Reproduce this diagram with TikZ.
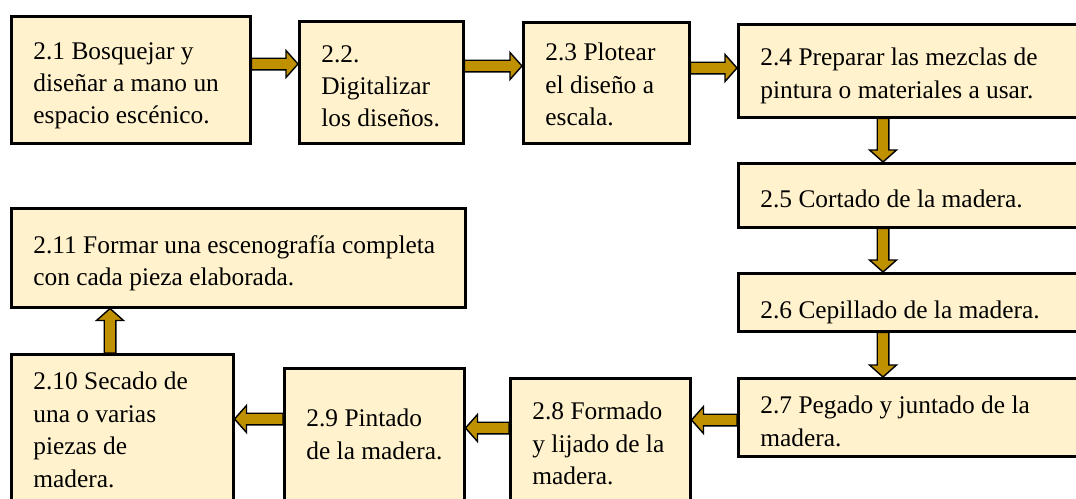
\documentclass[tikz,border=0pt]{standalone}
\usepackage{fontspec}
\setmainfont{Liberation Serif}
\newfontfamily\boxfont{Liberation Serif}
\usepackage{xcolor}
\usepackage{tikz}
\usetikzlibrary{calc,positioning}
\definecolor{boxfill}{HTML}{FFF2CC}
\definecolor{arrowgold}{HTML}{BF9000}

\begin{document}
\begin{tikzpicture}[x=0.5pt,y=-0.5pt]
\tikzstyle{box} = [draw, fill=boxfill, line width=1.25pt, anchor=north west, inner sep=0pt]
\tikzstyle{txt} = [anchor=north west, align=left, inner sep=0pt, font=\boxfont\fontsize{12.7}{16.2}\selectfont]
\tikzstyle{fat} = [draw, line width=0.7pt, line join=miter, fill=arrowgold,
  to path={let \p1=(\tikztostart), \p2=(\tikztotarget),
    \n1={atan2(\y2-\y1,\x2-\x1)}, \n2={veclen(\x2-\x1,\y2-\y1)}, \n3={\n2-6} in
    [shift={(\p1)}, rotate=\n1] (0pt,-2.9pt) -- (\n3*1pt,-2.9pt) -- (\n3*1pt,-6.75pt)
    -- (\n2*1pt,0pt) -- (\n3*1pt,6.75pt) -- (\n3*1pt,2.9pt) -- (0pt,2.9pt) -- cycle}]
\useasboundingbox (0,0) rectangle (1076,498);
\clip (0,0) rectangle (1076,498);
% boxes
\node [box, minimum width=119.5pt, minimum height=63.5pt] (n21) at (10,15) {};
\node [box, minimum width=82pt, minimum height=61pt] (n22) at (298,20) {};
\node [box, minimum width=83pt, minimum height=60.5pt] (n23) at (522,21) {};
\node [box, minimum width=180pt, minimum height=46.5pt] (n24) at (737,23) {};
\node [box, minimum width=180pt, minimum height=32pt] (n25) at (737,162) {};
\node [box, minimum width=180pt, minimum height=29pt] (n26) at (737,272) {};
\node [box, minimum width=180pt, minimum height=39pt] (n27) at (737,377) {};
\node [box, minimum width=90pt, minimum height=70pt] (n28) at (509,377) {};
\node [box, minimum width=90pt, minimum height=75pt] (n29) at (283,367) {};
\node [box, minimum width=111pt, minimum height=80pt] (n210) at (10,353) {};
\node [box, minimum width=227pt, minimum height=49.5pt] (n211) at (10,207) {};
% texts
\node [txt, below right=13.4pt and 11.5pt of n21.north west] (t21) {2.1 Bosquejar y\\diseñar a mano un\\espacio escénico.};
\node [txt, below right=12.4pt and 11.5pt of n22.north west] (t22) {2.2.\\Digitalizar\\los diseños.};
\node [txt, below right=10.9pt and 11.5pt of n23.north west] (t23) {2.3 Plotear\\el diseño a\\escala.};
\node [txt, below right=12.4pt and 11.5pt of n24.north west] (t24) {2.4 Preparar las mezclas de\\pintura o materiales a usar.};
\node [txt, below right=13.9pt and 11.5pt of n25.north west] (t25) {2.5 Cortado de la madera.};
\node [txt, below right=14.4pt and 11.5pt of n26.north west] (t26) {2.6 Cepillado de la madera.};
\node [txt, below right=9.4pt and 11.5pt of n27.north west] (t27) {2.7 Pegado y juntado de la\\madera.};
\node [txt, below right=12.4pt and 11.5pt of n28.north west] (t28) {2.8 Formado\\y lijado de la\\madera.};
\node [txt, below right=20.9pt and 11.5pt of n29.north west] (t29) {2.9 Pintado\\de la madera.};
\node [txt, below right=9.4pt and 11.5pt of n210.north west] (t210) {2.10 Secado de\\una o varias\\piezas de\\madera.};
\node [txt, below right=13.9pt and 11.5pt of n211.north west] (t211) {2.11 Formar una escenografía completa\\con cada pieza elaborada.};
% arrows
\draw [fat] (n21.east |- 0,64) to (n22.west |- 0,64);
\draw [fat] (n22.east |- 0,66) to (n23.west |- 0,66);
\draw [fat] (n23.east |- 0,68) to (n24.west |- 0,68);
\draw [fat] (n24.south -| 883,0) to (n25.north -| 883,0);
\draw [fat] (n25.south -| 883,0) to (n26.north -| 883,0);
\draw [fat] (n26.south -| 883,0) to (n27.north -| 883,0);
\draw [fat] (n27.west |- 0,420) to (n28.east |- 0,420);
\draw [fat] (n28.west |- 0,428) to (n29.east |- 0,428);
\draw [fat] (n29.west |- 0,419) to (n210.east |- 0,419);
\draw [fat] (n210.north -| 110,0) to (n211.south -| 110,0);
\end{tikzpicture}
\end{document}
